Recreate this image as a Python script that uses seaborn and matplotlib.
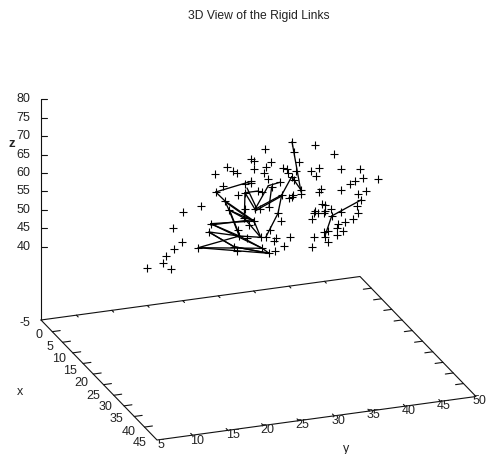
import numpy as np
import pandas as pd
import matplotlib
matplotlib.use("Agg")
import matplotlib.pyplot as plt
import seaborn as sns

TITLE = "3D View of the Rigid Links"

proj_h = [147.3,163.3,165.7,171.3,174,173.3,182,183.3,201.3,215,227.3,233,237.3,251.3,254.3,254,265.3,
          270.7,266,264,282.7,286.7,287.7,268,250.7,250.7,245,222.7,215.7,237.7,245,258.3,262.3,280,271.7,
          281.7,293.3,291.7,289,224.7,255,260,269,245,229,278,281,244.3,254,249.3,210.7,270,209,238.3,239.3,
          246.7,260.7,265.7,275.7,274,289.7,283.7,198.3,234,236.7,262.3,269,275,
          292,294.3,299,315,334.3,296,311.3,319,315.7,340.7,360.3,291.7,294,350.3,355.3,362.7,378,301,301.3,
          321,319.3,340.7,358,366.3,361,321.7,325.3,330.7,356.7,314.7,314,317.7,323.7,325,357.7,340.7,331.7,
          311.7,353.3,345,337.7,336.7,328.3,324,343.3,324.7,337.3,313.7,327.7,311.7]
proj_v = [268.3,262.7,256,269.3,249.3,227.7,241.7,212.3,206,173.7,167.3,170.7,172.7,158.7,161,168.7,149.3,
          162,166.7,173.3,167.7,169.3,173.3,179.3,180.7,183.3,184,185.7,192,194.7,192.7,191,192.3,182.3,186.7,
          195,195,196.7,198.3,200.7,209.3,209.3,207.3,209.3,210,213.3,221,218.3,221,225,223.7,230,232,230,236,
          238.3,237.3,237.3,238.3,240.7,237.3,246.3,247.7,246.7,251.3,248.3,253.3,250.7,
          141.7,151.7,162.3,145,154,171,170.7,168.3,176,169.3,169.3,176.7,180,184,180.7,177.7,179,190,194,
          189,191.7,190,194,191.3,200,204,205,208.7,206,211,213.3,213.3,213.3,211,213.3,211.7,216,
          219.3,219.3,222.3,224.3,228.3,231,231.7,231,236.7,235,236.7,241.7,246.7]

# Rigid links: start and end of each segment in the same view plane
link_h0 = [215.7,215.7,224.7,229,224.7,229,229,210.7,210.7,210.7,210.7,254,239.3,209,209,234,198.3,198.3,198.3,
           234,239.3,262.3,245,244.3,245,247,255,255,271.7,245,268.3,255,265.7,278,281.7,291.7,292,331.7,331.7,
           229.5,209.5,224.7]
link_v0 = [192,192,200.7,210,200.7,210,210,223.7,225,223.7,223.7,221,236,232,232,246.7,247.7,247.7,247.7,
           246.7,236,248.3,192.7,218.3,192.7,188,209.3,211,186.7,192.7,185.7,209.3,237.3,213.3,195,176.7,141.7,216,216,
           210,232.5,201.5]
link_h1 = [250.7,224.7,229,239.3,254,254,244.3,254,254,239.3,262.3,260.7,260.7,239.3,234,269,239.3,262.3,269,
           269,262.3,269,244.3,260.7,255,257,281.7,281.7,269,258.3,280,268.3,278,281.7,291.7,301,301,361,324.7,
           239.8,234.5,254]
link_v1 = [181.5,200.7,210,236,221,221,218.3,221,219.5,236,248.3,237.3,237.3,236,246.7,253.3,236,248.3,253.3,
           253.3,248.3,253.3,218.3,237.3,209.3,209,195,196,207.3,191,182.3,185.7,213.3,195,176.7,190,192,200,236.7,
           236,247,222]

# Axis values and the labels around the floor of the box
x_ticks = [0,5,10,15,20,25,30,35,40,45]
y_ticks = [5,10,15,20,25,30,35,40,45,50]
z_ticks = [40,45,50,55,60,65,70,75,80]
x_label_h = [39,50,59,70,81.7,93.3,105,116.7,128.3,139.3]
x_label_v = [335,347.3,359.3,371,383.3,395.7,407.3,419.3,431.7,443.3]
y_label_h = [161.3,197.3,232.7,267.3,302.7,338.3,373.3,409,444,479.3]
y_label_v = [445,440.7,435,430.3,425.3,420.7,415.3,411.3,406,401]

# Projection of the box
O = np.array([41.0, 320.0])
EX = np.array([116.0, 120.0])
EY = np.array([319.0, -43.5])
XMIN, XMAX = -5.5, 51.1
YMIN, YMAX = 5.0, 50.0

def floor(x, y):
    return O + (x - XMIN) / (XMAX - XMIN) * EX + (y - YMIN) / (YMAX - YMIN) * EY

def zpos(z):
    return 246.7 + (40 - z) * 3.685

sns.set_theme(style="white")
plt.rcParams["font.family"] = ["Liberation Sans", "DejaVu Sans"]

fig = plt.figure(figsize=(4.86, 4.54), dpi=100)
ax = fig.add_axes([0, 0, 1, 1])

AXC = "#111111"
LW = 0.8

segs = pd.DataFrame({
    "h": list(link_h0) + list(link_h1),
    "v": list(link_v0) + list(link_v1),
    "link": list(range(len(link_h0))) * 2,
    "order": [0] * len(link_h0) + [1] * len(link_h0),
}).sort_values(["link", "order"])
sns.lineplot(data=segs, x="h", y="v", units="link", estimator=None, sort=False,
             color="black", linewidth=0.95, ax=ax, legend=False)

pts = pd.DataFrame({"h": proj_h, "v": proj_v})
sns.scatterplot(data=pts, x="h", y="v", marker="+", s=30, color="black",
                linewidth=0.8, ax=ax, legend=False)

# floor box
corners = [floor(XMIN, YMIN), floor(XMAX, YMIN), floor(XMAX, YMAX), floor(XMIN, YMAX), floor(XMIN, YMIN)]
corners = np.array(corners)
ax.plot(corners[:, 0], corners[:, 1], color=AXC, lw=LW)
ax.plot([O[0], O[0]], [O[1], zpos(80)], color=AXC, lw=LW)

# x ticks: both side edges
ux = EY / np.linalg.norm(EY)
for x in x_ticks:
    a = floor(x, YMIN); b = a + ux * 8
    ax.plot([a[0], b[0]], [a[1], b[1]], color=AXC, lw=LW)
    a = floor(x, YMAX); b = a - ux * 8
    ax.plot([a[0], b[0]], [a[1], b[1]], color=AXC, lw=LW)

# y ticks: short ticks on both long edges
uy = EX / np.linalg.norm(EX)
for y in y_ticks[1:-1]:
    a = floor(XMIN, y); b = a + uy * 2.5
    ax.plot([a[0], b[0]], [a[1], b[1]], color=AXC, lw=LW)
    a = floor(XMAX, y); b = a - uy * 2.5
    ax.plot([a[0], b[0]], [a[1], b[1]], color=AXC, lw=LW)

# z ticks
for z in z_ticks:
    ax.plot([O[0], O[0] + 6], [zpos(z), zpos(z)], color=AXC, lw=LW)

FS = 9.0
TC = "#222222"
kw = dict(fontsize=FS, color=TC, ha="center", va="center")
for t, h, v in zip(x_ticks, x_label_h, x_label_v):
    ax.text(h, v, str(t), **kw)
for t, h, v in zip(y_ticks, y_label_h, y_label_v):
    ax.text(h, v, str(t), **kw)
for z in z_ticks:
    ax.text(30.5, zpos(z), str(z), fontsize=FS, color=TC, ha="right", va="center")
ax.text(30.5, 323.5, "-5", fontsize=FS, color=TC, ha="right", va="center")
ax.text(20, 391.7, "x", **kw)
ax.text(345.7, 449, "y", **kw)
ax.text(12.3, 144, "z", fontsize=FS + 0.5, fontweight="bold", color=TC, ha="center", va="center")
ax.text(258.5, 15.5, TITLE, fontsize=8.7, color=TC, ha="center", va="center")

ax.set_xlim(0, 486)
ax.set_ylim(454, 0)
ax.set_xlabel("")
ax.set_ylabel("")
ax.set_axis_off()

fig.savefig("out.png", dpi=100, facecolor="white")
